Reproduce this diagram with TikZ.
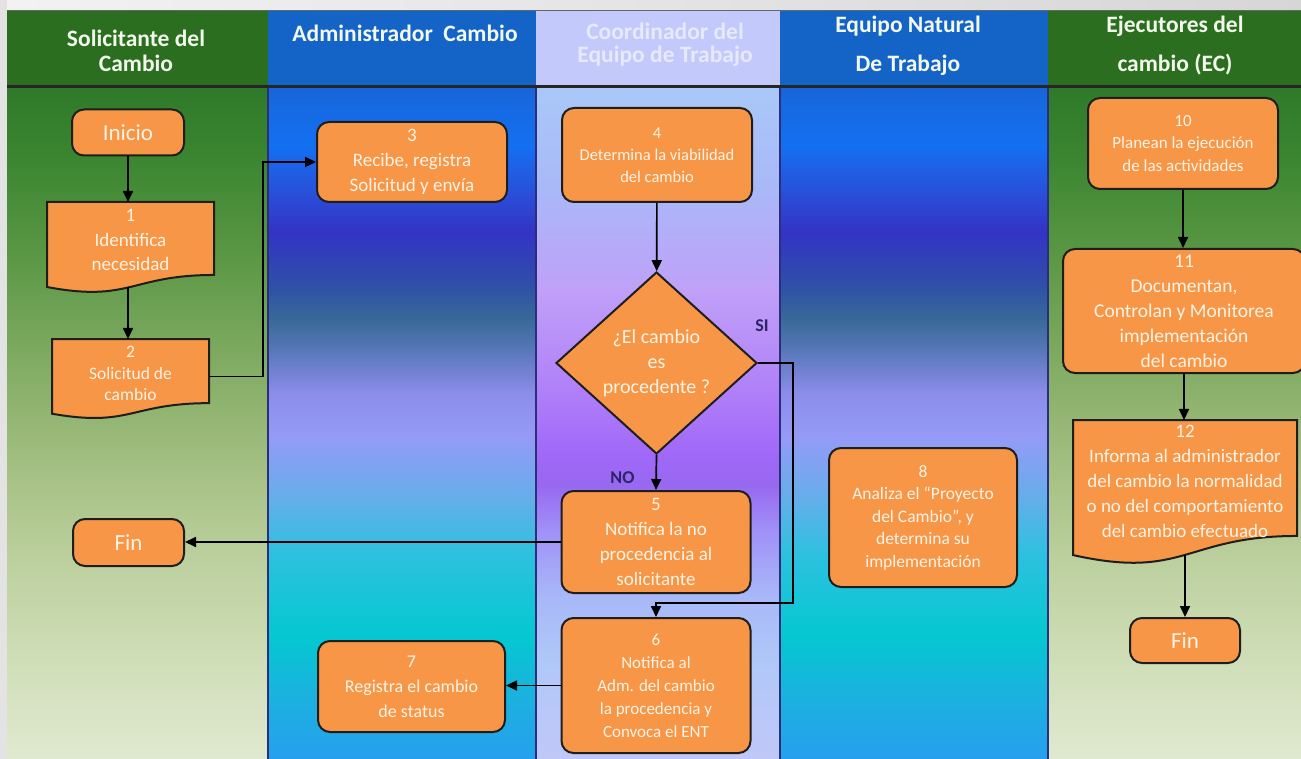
\documentclass[tikz,border=0pt]{standalone}
\usepackage{fontspec}
\setmainfont{Carlito}
\usetikzlibrary{arrows.meta,shapes.geometric,calc}
\pgfdeclarelayer{lanes}
\pgfdeclarelayer{shapes}
\pgfsetlayers{lanes,shapes,main}

% boxes and rules
\definecolor{boxfill}{HTML}{F79646}
\definecolor{boxtext}{HTML}{FFF3E6}
\definecolor{edge}{HTML}{1E1E1E}
\definecolor{lanerule}{HTML}{2B2E7A}
% headers
\definecolor{hdrgreen}{HTML}{2C6E1F}
\definecolor{hdrblue}{HTML}{1463C6}
\definecolor{hdrlav}{HTML}{C3C9FA}
\definecolor{hdrtext}{HTML}{F2F8EC}
\definecolor{lavtext}{HTML}{E6EAFF}
\definecolor{lbltext}{HTML}{2E2468}
% green lane body
\definecolor{ga}{HTML}{2F7A2A}
\definecolor{gb}{HTML}{3C8631}
\definecolor{gc}{HTML}{5C9846}
\definecolor{gd}{HTML}{80AB62}
\definecolor{ge}{HTML}{A2BE80}
\definecolor{gf}{HTML}{BCD09E}
\definecolor{gg}{HTML}{D0DEB8}
\definecolor{gh}{HTML}{DFE9D0}
% blue lane body
\definecolor{ba}{HTML}{1766D8}
\definecolor{bb}{HTML}{1470F2}
\definecolor{bc}{HTML}{2A4ED8}
\definecolor{bd}{HTML}{3333C5}
\definecolor{be}{HTML}{2F4FA8}
\definecolor{bf}{HTML}{386A98}
\definecolor{bg}{HTML}{5A78BC}
\definecolor{bh}{HTML}{8A8CE8}
\definecolor{bi}{HTML}{969AF7}
\definecolor{bj}{HTML}{66ADEA}
\definecolor{bk}{HTML}{30C0E0}
\definecolor{bl}{HTML}{04C8D0}
\definecolor{bm}{HTML}{1CB0E0}
\definecolor{bn}{HTML}{26A0EE}
% lavender lane body
\definecolor{la}{HTML}{A9C8F8}
\definecolor{lb}{HTML}{A9B8F8}
\definecolor{lc}{HTML}{C0A0F8}
\definecolor{ld}{HTML}{B080F8}
\definecolor{le}{HTML}{A068F8}
\definecolor{lf}{HTML}{9868F0}
\definecolor{lg}{HTML}{A090F8}
\definecolor{lh}{HTML}{A8B8F8}
\definecolor{li}{HTML}{B0C8F8}
\definecolor{lj}{HTML}{C0C8F8}

% vertical colour run built from stacked two-colour strips
\newcommand\lanefill[3]{%
  \foreach \ya/\ca/\yb/\cb in {#3}
    \shade[top color=\ca, bottom color=\cb] (#1,\ya-0.6) rectangle (#2,\yb+0.6);
}

% document symbol: #1 name, #2 left, #3 top, #4 width, #5 wave height,
% #6 text centre y, #7 font, #8 text
\newcommand\docnode[8]{%
  \begin{pgfonlayer}{shapes}
    \draw[docline] (#2,#3) -- ({#2+#4},#3) -- ({#2+#4},{#3+0.802*#5})
      .. controls ({#2+0.5*#4},{#3+0.802*#5}) and ({#2+0.5*#4},{#3+1.1075*#5}) ..
      (#2,{#3+0.934*#5}) -- cycle;
  \end{pgfonlayer}
  \node[docframe, minimum width=#4, minimum height={0.934*#5}] (#1) at ({#2+0.5*#4},{#3+0.467*#5}) {};
  \node[doctext, font=#7] (#1t) at ({#2+0.5*#4},#6) {#8};
}

\tikzset{
  proc/.style={draw=edge, line width=2pt, fill=boxfill, rounded corners=12pt,
    text=boxtext, align=center, inner sep=1pt},
  dec/.style={diamond, aspect=1.1, draw=edge, line width=2pt, fill=boxfill,
    text=boxtext, align=center, inner sep=0pt, font=\fontsize{20}{25}\selectfont},
  docline/.style={draw=edge, line width=2pt, fill=boxfill},
  docframe/.style={inner sep=0pt, outer sep=0pt},
  doctext/.style={text=boxtext, align=center, inner sep=0pt},
  hdr/.style={text=hdrtext, align=center, inner sep=0pt},
  lbl/.style={text=lbltext, font=\bfseries\fontsize{18}{20}\selectfont, inner sep=0pt},
  arr/.style={draw=black, line width=1.7pt, -{Triangle[length=11pt,width=10pt]}},
}

\begin{document}
\begin{tikzpicture}[x=1pt,y=-1pt]
\useasboundingbox (0,0) rectangle (1301,759);

\begin{pgfonlayer}{lanes}
  % outer margin
  \shade[left color=black!5, right color=black!16] (0,0) rectangle (1301,10);
  \fill[black!11] (0,0) rectangle (7,759);
  % lane bodies
  \lanefill{7}{268}{88/ga/160/gb, 160/gb/260/gc, 260/gc/360/gd, 360/gd/460/ge, 460/ge/560/gf, 560/gf/660/gg, 660/gg/759/gh}
  \lanefill{1048}{1301}{88/ga/160/gb, 160/gb/260/gc, 260/gc/360/gd, 360/gd/460/ge, 460/ge/560/gf, 560/gf/660/gg, 660/gg/759/gh}
  \lanefill{268}{536}{88/ba/145/bb, 145/bb/195/bc, 195/bc/232/bd, 232/bd/285/be, 285/be/320/bf, 320/bf/352/bg, 352/bg/392/bh, 392/bh/435/bi, 435/bi/497/bj, 497/bj/550/bk, 550/bk/635/bl, 635/bl/700/bm, 700/bm/759/bn}
  \lanefill{780}{1048}{88/ba/145/bb, 145/bb/195/bc, 195/bc/232/bd, 232/bd/285/be, 285/be/320/bf, 320/bf/352/bg, 352/bg/392/bh, 392/bh/435/bi, 435/bi/497/bj, 497/bj/550/bk, 550/bk/635/bl, 635/bl/700/bm, 700/bm/759/bn}
  \lanefill{536}{780}{88/la/190/lb, 190/lb/290/lc, 290/lc/390/ld, 390/ld/455/le, 455/le/485/lf, 485/lf/530/lg, 530/lg/597/lh, 597/lh/663/li, 663/li/759/lj}
  % lane rules
  \foreach \x in {268,536,780,1048}
    \draw[lanerule, line width=1.2pt] (\x,88) -- (\x,759);
  % header band
  \fill[hdrgreen] (7,10) rectangle (268,87);
  \fill[hdrblue] (268,10) rectangle (536,87);
  \fill[hdrlav] (536,10) rectangle (780,87);
  \fill[hdrblue] (780,10) rectangle (1048,87);
  \fill[hdrgreen] (1048,10) rectangle (1301,87);
  \draw[black!60, line width=1pt] (7,10.5) -- (1301,10.5);
  \draw[black!85, line width=3pt] (7,87) -- (1301,87);
\end{pgfonlayer}

% lane titles
\node[hdr, font=\bfseries\fontsize{23.5}{25}\selectfont] (h1) at (136,51) {Solicitante del\\Cambio};
\node[hdr, font=\bfseries\fontsize{23.5}{25}\selectfont] (h2) at (405,33) {Administrador~ Cambio};
\node[hdr, text=lavtext, font=\bfseries\fontsize{23.5}{23}\selectfont] (h3) at (665,45) {Coordinador del\\Equipo de Trabajo};
\node[hdr, font=\bfseries\fontsize{23.5}{39}\selectfont] (h4) at (908,46) {Equipo Natural\\De Trabajo};
\node[hdr, font=\bfseries\fontsize{23.5}{39}\selectfont] (h5) at (1175,46) {Ejecutores del\\cambio (EC)};

% Solicitante del Cambio
\node[proc, minimum width=112, minimum height=46, font=\fontsize{23}{26}\selectfont] (ini) at (128,132.5) {Inicio};
\docnode{d1}{47}{202}{167}{91}{240}{\fontsize{19}{24.5}\selectfont}{1\\Identifica\\necesidad}
\docnode{d2}{52}{339}{157}{80}{373.5}{\fontsize{17.5}{21.5}\selectfont}{2\\Solicitud de\\cambio}
\node[proc, minimum width=111, minimum height=47, font=\fontsize{23}{26}\selectfont] (fin1) at (128.5,542.5) {Fin};

% Administrador Cambio
\node[proc, minimum width=190, minimum height=80, font=\fontsize{19}{25}\selectfont] (p3) at (412,162) {3\\Recibe, registra\\Solicitud y envía};
\node[proc, minimum width=187, minimum height=91, font=\fontsize{18}{25}\selectfont] (p7) at (411.5,686.5) {7\\Registra el cambio\\de status};

% Coordinador del Equipo de Trabajo
\node[proc, minimum width=190, minimum height=94, font=\fontsize{16.5}{22}\selectfont] (p4) at (657,155) {4\\Determina la viabilidad\\del cambio};
\node[dec, minimum width=201, minimum height=182] (dia) at (656.5,363) {¿El cambio\\es\\procedente ?};
\node[proc, minimum width=189, minimum height=102, font=\fontsize{19}{25}\selectfont] (p5) at (656,542) {5\\Notifica la no\\procedencia al\\solicitante};
\node[proc, minimum width=189, minimum height=135, font=\fontsize{17}{23}\selectfont] (p6) at (656,685.5) {6\\Notifica al\\Adm. del cambio\\la procedencia y\\Convoca el ENT};
\node[lbl] (si) at ($(dia.east)+(4,-37)$) {SI};
\node[lbl] (no) at ($(dia.south)+(-34,23)$) {NO};

% Equipo Natural de Trabajo
\node[proc, minimum width=188, minimum height=139, font=\fontsize{17.5}{22.5}\selectfont] (p8) at (923,517.5) {8\\Analiza el “Proyecto\\del Cambio”, y\\determina su\\implementación};

% Ejecutores del cambio
\node[proc, minimum width=190, minimum height=91, font=\fontsize{17}{22.5}\selectfont] (p10) at (1183,143.5) {10\\Planean la ejecución\\de las actividades};
\node[proc, minimum width=242, minimum height=124, font=\fontsize{19.5}{25}\selectfont] (p11) at (1184,311) {11\\Documentan,\\Controlan y Monitorea\\implementación\\del cambio};
\docnode{d12}{1073}{420}{224}{144.6}{481.5}{\fontsize{19}{25}\selectfont}{12\\Informa al administrador\\del cambio la normalidad\\o no del comportamiento\\del cambio efectuado}
\node[proc, minimum width=110, minimum height=45, font=\fontsize{23}{26}\selectfont] (fin2) at (1185,640.5) {Fin};

% connectors
\draw[arr] (ini.south) -- (ini.south |- d1.north);
\draw[arr] (ini.south |- d1.south) -- (ini.south |- d2.north);
\draw[arr] (d2.east) -- ++(54,0) |- (p3.west);
\draw[arr] (p4) -- (dia);
\draw[arr] (dia.south) -- (p5.north);
\draw[arr] (dia.east) -- ++(35,0) |- ($(p6.north)+(0,-14)$) -- (p6.north);
\draw[arr] (p5.west) -- (p5.west -| fin1.east);
\draw[arr] (p6.west) -- (p6.west -| p7.east);
\draw[arr] (p10.south) -- (p10.south |- p11.north);
\draw[arr] (p11.south) -- (p11.south |- d12.north);
\draw[arr] (d12.south) -- (fin2.north);
\end{tikzpicture}
\end{document}
